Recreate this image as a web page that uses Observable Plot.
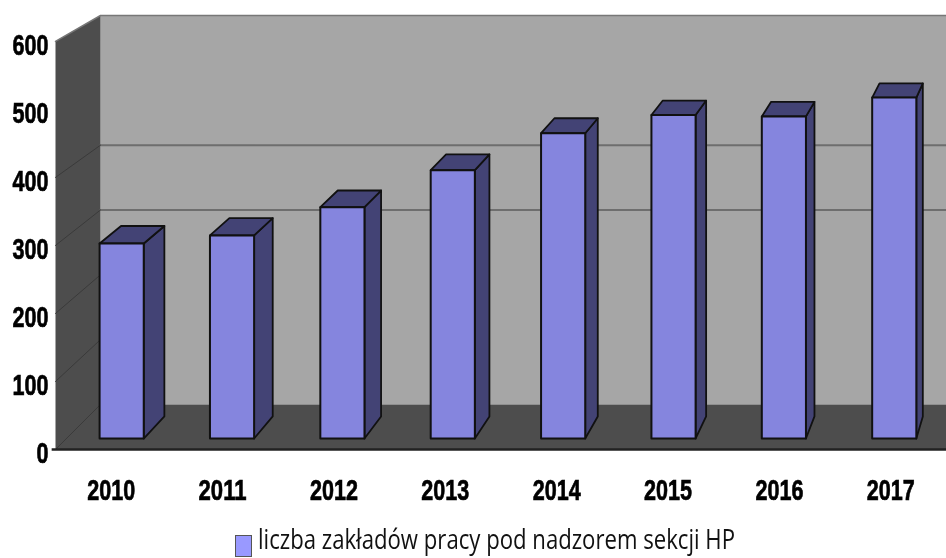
<!DOCTYPE html>
<html>
<head>
<meta charset="utf-8">
<script src="https://cdn.jsdelivr.net/npm/d3@7"></script>
<script src="https://cdn.jsdelivr.net/npm/@observablehq/plot@0.6"></script>
<style>
html,body{margin:0;padding:0;background:#fff;overflow:hidden}
#chart svg{filter:blur(0.5px)}
#swatch{position:absolute;left:235px;top:535px;width:15px;height:20px;background:#9999ff;border:1px solid #555}
#legendText{position:absolute;left:258px;top:521px;font-family:"Open Sans",sans-serif;font-size:28px;line-height:34px;color:#111;white-space:nowrap;transform-origin:0 50%;filter:blur(0.3px)}
</style>
</head>
<body>
<div id="chart"></div>
<div id="swatch"></div>
<div id="legendText">liczba zakładów pracy pod nadzorem sekcji HP</div>
<script>
const years = [2010, 2011, 2012, 2013, 2014, 2015, 2016, 2017];
const values = [290, 302, 344, 399, 454, 481, 479, 507];
const yTicks = [0, 100, 200, 300, 400, 500, 600];
const wallGrid = [100, 200, 300, 400];
const backGrid = [300, 400];

// Perspective projection of (year, value, depth 0..1) onto the plot's x/y data units
const px = (x, d) => x + d * 0.404 - d * 0.037 * (x - 2009.5);
const py = (v, d) => v + d * (66.2 - 0.047 * v);
const xMin = 2009.5, xMax = 2017.5, vMax = 600;
const d0 = 0.244, d1 = 0.734, halfBar = 0.2;

const poly = (id, corners) => corners.map(([x, v, d]) => ({id, x: px(x, d), y: py(v, d)}));
const xb = xMax + 0.6;

const backWall = poly("back", [[xMin,0,1],[xb,0,1],[xb,vMax,1],[xMin,vMax,1],[xMin,0,1]]);
const sideWall = poly("side", [[xMin,0,0],[xMin,0,1],[xMin,vMax,1],[xMin,vMax,0],[xMin,0,0]]);
const floor = poly("floor", [[xMin,0,0],[xb,0,0],[xb,0,1],[xMin,0,1],[xMin,0,0]]);
const wallLines = [0, ...wallGrid].flatMap(v => poly("w" + v, [[xMin,v,0],[xMin,v,1]]));
const backLines = backGrid.flatMap(v => poly("b" + v, [[xMin,v,1],[xb,v,1]]));
const topEdge = poly("top", [[xMin,vMax,0],[xMin,vMax,1],[xb,vMax,1]]);

const faces = (fn) => years.flatMap((y, i) => fn(y, values[i], i));
const barSide = faces((y, v, i) => poly("s" + i, [[y+halfBar,0,d0],[y+halfBar,0,d1],[y+halfBar,v,d1],[y+halfBar,v,d0],[y+halfBar,0,d0]]));
const barTop = faces((y, v, i) => poly("t" + i, [[y-halfBar,v,d0],[y-halfBar,v,d1],[y+halfBar,v,d1],[y+halfBar,v,d0],[y-halfBar,v,d0]]));
const barFront = faces((y, v, i) => poly("f" + i, [[y-halfBar,0,d0],[y+halfBar,0,d0],[y+halfBar,v,d0],[y-halfBar,v,d0],[y-halfBar,0,d0]]));

const shape = (data, fill, stroke, strokeWidth) => Plot.line(data, {x: "x", y: "y", z: "id", fill, stroke, strokeWidth, curve: "linear"});
const labelFont = '"Liberation Sans",sans-serif';

const plot = Plot.plot({
  width: 946,
  height: 520,
  marginLeft: 55,
  marginRight: 0,
  marginTop: 15,
  marginBottom: 71,
  style: {background: "#fff", overflow: "hidden"},
  x: {domain: [xMin, xMax]},
  y: {domain: [0, py(vMax, 1)]},
  marks: [
    shape(backWall, "#a6a6a6", "none", 0),
    shape(sideWall, "#4d4d4d", "none", 0),
    shape(floor, "#4d4d4d", "none", 0),
    shape(backLines, "none", "#6e6e6e", 2),
    shape(wallLines, "none", "#3a3a3a", 1),
    shape(topEdge, "none", "#777", 1.5),
    shape(barSide, "#434375", "#111", 1.8),
    shape(barTop, "#434375", "#111", 1.8),
    shape(barFront, "#8585de", "#111", 2),
    Plot.ruleY([0], {x1: xMin - 0.03, x2: xb, stroke: "#222", strokeWidth: 2.5}),
    Plot.axisY({ticks: yTicks, tickSize: 0, tickPadding: 7, dy: 4, label: null, tickFormat: d3.format("d"),
      fontSize: 30, fontWeight: "bold", fontFamily: labelFont, fill: "#000"}),
    Plot.axisX({ticks: years, tickSize: 0, tickPadding: 29, label: null, tickFormat: d3.format("d"),
      fontSize: 30, fontWeight: "bold", fontFamily: labelFont, fill: "#000"})
  ]
});
document.getElementById("chart").appendChild(plot);

// The reference's tick labels are in a heavy condensed cut: squeeze the glyphs to its widths
d3.select(plot).selectAll('g[aria-label$="tick label"] text').each(function () {
  const n = this.textContent.length;
  this.setAttribute("textLength", n * 12);
  this.setAttribute("lengthAdjust", "spacingAndGlyphs");
  this.setAttribute("stroke", "#000");
  this.setAttribute("stroke-width", "0.7");
});

// Fit the legend text to the reference's width
const legendText = document.getElementById("legendText");
legendText.style.transform = `scaleX(${477 / legendText.getBoundingClientRect().width})`;
</script>
</body>
</html>
